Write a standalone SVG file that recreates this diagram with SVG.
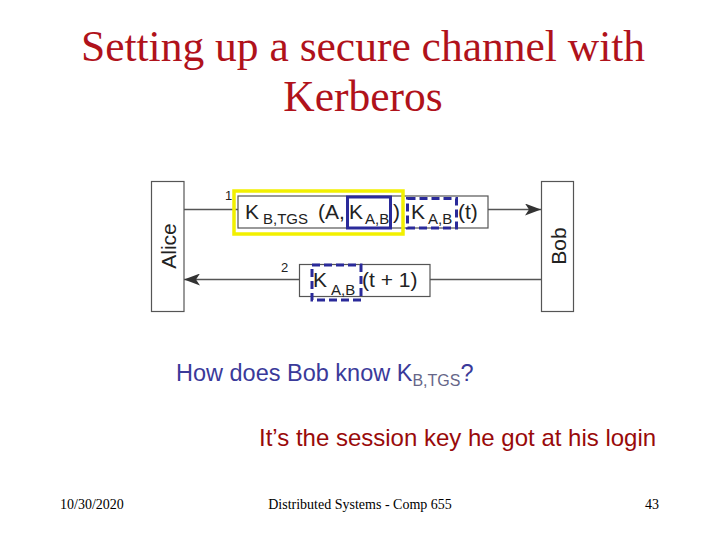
<svg xmlns="http://www.w3.org/2000/svg" width="720" height="540" viewBox="0 0 720 540">
<style>
.title{font-family:"Liberation Serif","Times New Roman",serif;font-size:43.5px;fill:#B0121B;text-anchor:middle}
.foot{font-family:"Liberation Serif","Times New Roman",serif;font-size:14px;fill:#000}
.lbl{font-family:"Liberation Sans",Arial,sans-serif;fill:#222}
.big{font-size:21px}
.sub{font-size:15px}
.num{font-size:13px}
.box{fill:#fff;stroke:#555;stroke-width:1.2}
.line{stroke:#555;stroke-width:1.3;fill:none}
.yel{fill:none;stroke:#F2F000;stroke-width:3.5}
.blue{fill:none;stroke:#2A2A9A;stroke-width:3}
.dash{fill:none;stroke:#2A2A9A;stroke-width:3;stroke-dasharray:8,4}
.q{font-family:"Liberation Sans",Arial,sans-serif;font-size:23.5px;fill:#3A3A9A}
.a{font-family:"Liberation Sans",Arial,sans-serif;font-size:24px;fill:#990A0A}
</style>
<defs>
<marker id="ah" markerWidth="16" markerHeight="12" refX="16" refY="6" orient="auto" markerUnits="userSpaceOnUse">
<path d="M0,0 L16,6 L0,12 L4,6 Z" fill="#333"/>
</marker>
</defs>
<rect width="720" height="540" fill="#fff"/>
<text class="title" x="363" y="61">Setting up a secure channel with</text>
<text class="title" x="363" y="111">Kerberos</text>

<g id="connectors">
<line class="line" x1="184" y1="209.5" x2="238" y2="209.5"/>
<line class="line" x1="488" y1="209.5" x2="541" y2="209.5" marker-end="url(#ah)"/>
<line class="line" x1="541" y1="279.5" x2="430" y2="279.5"/>
<line class="line" x1="299" y1="279.5" x2="184" y2="279.5" marker-end="url(#ah)"/>
</g>

<g id="alice">
<rect class="box" x="151.5" y="181.5" width="32.5" height="130"/>
<text class="lbl big" transform="translate(176,246) rotate(-90)" text-anchor="middle">Alice</text>
</g>
<g id="bob">
<rect class="box" x="541.5" y="181.5" width="32" height="130"/>
<text class="lbl big" transform="translate(566,246) rotate(-90)" text-anchor="middle">Bob</text>
</g>

<g id="msg1">
<rect class="box" x="238" y="196" width="250" height="32"/>
<text class="lbl num" x="225" y="200">1</text>
<text class="lbl big" x="245" y="219">K</text>
<text class="lbl sub" x="263" y="224">B,TGS</text>
<text class="lbl big" x="318" y="219">(A,</text>
<text class="lbl big" x="349" y="219">K</text>
<text class="lbl sub" x="365" y="224">A,B</text>
<text class="lbl big" x="393" y="219">)</text>
<text class="lbl big" x="411" y="219">K</text>
<text class="lbl sub" x="428" y="224">A,B</text>
<text class="lbl big" x="458" y="219">(t)</text>
<rect class="yel" x="234" y="191" width="169" height="43"/>
<rect class="blue" x="347.5" y="197" width="43" height="31"/>
<rect class="dash" x="407.5" y="198.5" width="49" height="29.5"/>
</g>

<g id="msg2">
<rect class="box" x="299.5" y="264.5" width="130.5" height="32"/>
<text class="lbl num" x="281" y="272">2</text>
<text class="lbl big" x="313" y="287">K</text>
<text class="lbl sub" x="331" y="295">A,B</text>
<text class="lbl big" x="362" y="287">(t + 1)</text>
<rect class="dash" x="312" y="265" width="49" height="35"/>
</g>

<text class="q" x="176" y="381">How does Bob know K<tspan font-size="16" dy="5" fill="#666688">B,TGS</tspan><tspan dy="-5">?</tspan></text>
<text class="a" x="259" y="446">It’s the session key he got at his login</text>

<text class="foot" x="60" y="509">10/30/2020</text>
<text class="foot" x="360" y="509" text-anchor="middle">Distributed Systems - Comp 655</text>
<text class="foot" x="659" y="509" text-anchor="end">43</text>
</svg>
